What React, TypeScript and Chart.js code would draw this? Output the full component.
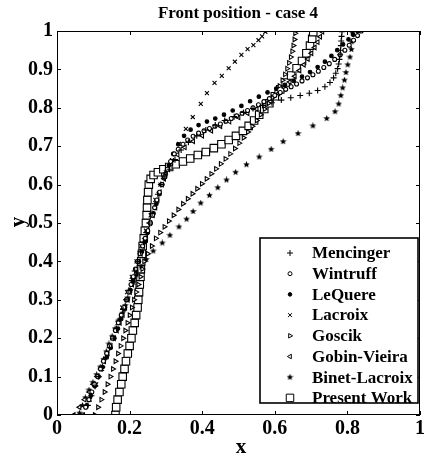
import React, { useEffect, useRef } from "react";
import { Chart, registerables } from "chart.js";
import { drawPoint } from "chart.js/helpers";

Chart.register(...registerables);

const TITLE = "Front position - case 4";
const X_LABEL = "x";
const Y_LABEL = "y";
const X_TICKS = [0, 0.2, 0.4, 0.6, 0.8, 1];
const Y_TICKS = [0, 0.1, 0.2, 0.3, 0.4, 0.5, 0.6, 0.7, 0.8, 0.9, 1];

// Mencinger
const MEN_X = [
  0.075, 0.085, 0.095, 0.105, 0.115, 0.125, 0.135, 0.145, 0.155, 0.164, 0.173, 0.182, 0.19, 0.198, 0.206,
  0.214, 0.222, 0.23, 0.238, 0.246, 0.254, 0.262, 0.27, 0.278, 0.286, 0.295,
  0.31, 0.325, 0.342, 0.362, 0.385, 0.41, 0.436, 0.462, 0.488, 0.514, 0.54, 0.566, 0.592, 0.618, 0.644,
  0.67, 0.695, 0.718, 0.738, 0.752, 0.762, 0.768, 0.773, 0.776, 0.778, 0.78, 0.781, 0.782, 0.783, 0.784, 0.785,
];
const MEN_Y = [
  0, 0.025, 0.05, 0.075, 0.1, 0.125, 0.15, 0.175, 0.2, 0.225, 0.25, 0.275, 0.3, 0.325, 0.35,
  0.375, 0.4, 0.425, 0.45, 0.475, 0.5, 0.525, 0.55, 0.575, 0.6, 0.62,
  0.64, 0.665, 0.69, 0.71, 0.727, 0.742, 0.755, 0.767, 0.777, 0.788, 0.798, 0.806, 0.813, 0.82, 0.826,
  0.832, 0.838, 0.845, 0.855, 0.866, 0.878, 0.89, 0.902, 0.914, 0.926, 0.938, 0.95, 0.962, 0.974, 0.986, 0.998,
];

// Wintruff
const WIN_X = [
  0.07, 0.079, 0.088, 0.096, 0.104, 0.112, 0.12, 0.128, 0.137, 0.145, 0.153, 0.161, 0.169, 0.177, 0.184,
  0.191, 0.198, 0.204, 0.21, 0.216, 0.222, 0.229, 0.236, 0.243, 0.25, 0.257, 0.263, 0.269, 0.275, 0.282,
  0.289, 0.296, 0.304, 0.313, 0.323, 0.334, 0.347, 0.36, 0.375, 0.39, 0.405, 0.42, 0.435, 0.45, 0.465,
  0.48, 0.495, 0.51, 0.525, 0.54, 0.555, 0.57, 0.585, 0.6, 0.615, 0.63, 0.645, 0.66, 0.675, 0.69,
  0.705, 0.72, 0.735, 0.75, 0.765, 0.78, 0.793, 0.805, 0.817, 0.828, 0.838,
];
const WIN_Y = [
  0, 0.02, 0.04, 0.06, 0.08, 0.1, 0.12, 0.14, 0.16, 0.18, 0.2, 0.22, 0.24, 0.26, 0.28,
  0.3, 0.32, 0.34, 0.36, 0.38, 0.4, 0.42, 0.44, 0.46, 0.48, 0.5, 0.52, 0.54, 0.56, 0.58,
  0.6, 0.62, 0.64, 0.66, 0.68, 0.692, 0.705, 0.716, 0.726, 0.734, 0.74, 0.746, 0.752, 0.758, 0.765,
  0.772, 0.779, 0.786, 0.793, 0.8, 0.808, 0.816, 0.824, 0.832, 0.84, 0.848, 0.855, 0.862, 0.87, 0.878,
  0.886, 0.895, 0.905, 0.915, 0.926, 0.938, 0.95, 0.963, 0.976, 0.988, 1.0,
];

// LeQuere
const LEQ_X = [
  0.072, 0.082, 0.093, 0.104, 0.115, 0.126, 0.137, 0.148, 0.158, 0.168, 0.177, 0.186, 0.194, 0.202, 0.21,
  0.218, 0.226, 0.234, 0.242, 0.25, 0.258, 0.266, 0.274, 0.282, 0.29, 0.298, 0.308,
  0.32, 0.334, 0.35, 0.368, 0.39, 0.413, 0.436, 0.46, 0.484, 0.508, 0.532, 0.556, 0.58, 0.604, 0.628,
  0.652, 0.675, 0.697, 0.718, 0.738, 0.756, 0.772, 0.788, 0.803, 0.816, 0.828,
];
const LEQ_Y = [
  0, 0.025, 0.05, 0.075, 0.1, 0.125, 0.15, 0.175, 0.2, 0.225, 0.25, 0.275, 0.3, 0.325, 0.35,
  0.375, 0.4, 0.425, 0.45, 0.475, 0.5, 0.525, 0.55, 0.575, 0.6, 0.62, 0.65,
  0.68, 0.705, 0.727, 0.743, 0.755, 0.764, 0.772, 0.782, 0.793, 0.805, 0.817, 0.829, 0.84, 0.85, 0.86,
  0.87, 0.881, 0.893, 0.906, 0.92, 0.935, 0.95, 0.965, 0.978, 0.99, 1.0,
];

// Lacroix
const LAC_X = [
  0.07, 0.09, 0.108, 0.124, 0.139, 0.153, 0.167, 0.18, 0.193, 0.206, 0.219, 0.232, 0.245, 0.258, 0.271,
  0.285, 0.3, 0.317, 0.336, 0.355, 0.374, 0.396, 0.413, 0.434, 0.454, 0.473, 0.49, 0.508, 0.525, 0.541,
  0.555, 0.565, 0.574,
];
const LAC_Y = [
  0, 0.04, 0.08, 0.12, 0.16, 0.2, 0.24, 0.28, 0.32, 0.36, 0.4, 0.44, 0.48, 0.52, 0.56,
  0.6, 0.632, 0.664, 0.706, 0.745, 0.776, 0.81, 0.838, 0.865, 0.883, 0.903, 0.92, 0.938, 0.953, 0.963,
  0.976, 0.986, 0.998,
];

// Goscik
const GOS_X = [
  0.104, 0.113, 0.122, 0.131, 0.139, 0.147, 0.154, 0.161, 0.168, 0.175, 0.182, 0.188, 0.194, 0.2, 0.206,
  0.212, 0.218, 0.224, 0.23, 0.235, 0.24, 0.25, 0.261, 0.272, 0.284, 0.296, 0.308, 0.321, 0.334, 0.347,
  0.36, 0.373, 0.386, 0.399, 0.412, 0.425, 0.438, 0.451, 0.464, 0.477, 0.49, 0.502, 0.514, 0.526, 0.538,
  0.55, 0.561, 0.572, 0.583, 0.594, 0.604, 0.613, 0.621, 0.628, 0.634, 0.639, 0.644, 0.648, 0.651, 0.654,
  0.656,
];
const GOS_Y = [
  0, 0.02, 0.04, 0.06, 0.08, 0.1, 0.12, 0.14, 0.16, 0.18, 0.2, 0.22, 0.24, 0.26, 0.28,
  0.3, 0.32, 0.34, 0.36, 0.38, 0.4, 0.42, 0.44, 0.46, 0.475, 0.49, 0.505, 0.52, 0.535, 0.55,
  0.563, 0.576, 0.589, 0.602, 0.615, 0.628, 0.641, 0.654, 0.667, 0.68, 0.694, 0.708, 0.722, 0.737, 0.752,
  0.767, 0.782, 0.797, 0.812, 0.827, 0.842, 0.857, 0.872, 0.887, 0.902, 0.917, 0.932, 0.947, 0.962, 0.978,
  0.994,
];

// Gobin-Vieira
const GOB_X = [
  0.046, 0.062, 0.076, 0.089, 0.1, 0.111, 0.121, 0.13, 0.139, 0.148, 0.157, 0.165, 0.173, 0.181, 0.188,
  0.195, 0.201, 0.207, 0.213, 0.219, 0.225, 0.231, 0.237, 0.243, 0.25, 0.257, 0.264, 0.271, 0.277, 0.283,
  0.289, 0.295,
  0.3, 0.315, 0.332, 0.352, 0.375, 0.4, 0.425, 0.45, 0.475, 0.5, 0.525, 0.55, 0.572, 0.592, 0.61,
  0.626, 0.641, 0.655, 0.668, 0.68, 0.691, 0.701, 0.71, 0.718, 0.725, 0.731,
];
const GOB_Y = [
  0, 0.02, 0.04, 0.06, 0.08, 0.1, 0.12, 0.14, 0.16, 0.18, 0.2, 0.22, 0.24, 0.26, 0.28,
  0.3, 0.32, 0.34, 0.36, 0.38, 0.4, 0.42, 0.44, 0.46, 0.48, 0.5, 0.52, 0.54, 0.56, 0.58,
  0.6, 0.615,
  0.63, 0.655, 0.678, 0.697, 0.713, 0.727, 0.74, 0.752, 0.764, 0.775, 0.786, 0.797, 0.81, 0.823, 0.837,
  0.852, 0.867, 0.882, 0.897, 0.912, 0.927, 0.942, 0.957, 0.971, 0.985, 0.998,
];

// Binet-Lacroix
const BIN_X = [
  0.062, 0.07, 0.078, 0.088, 0.099, 0.109, 0.119, 0.128, 0.136, 0.143, 0.152, 0.16, 0.169, 0.18, 0.188,
  0.195, 0.202, 0.21, 0.22, 0.232, 0.246, 0.265, 0.29, 0.311, 0.336, 0.357, 0.375, 0.396, 0.42, 0.443,
  0.467, 0.492, 0.522, 0.557, 0.59, 0.623, 0.664, 0.705, 0.743, 0.766, 0.776, 0.782, 0.787, 0.792, 0.796,
  0.801, 0.807, 0.811, 0.812, 0.814,
];
const BIN_Y = [
  0.005, 0.025, 0.045, 0.065, 0.085, 0.105, 0.125, 0.145, 0.165, 0.185, 0.205, 0.225, 0.245, 0.265, 0.285,
  0.305, 0.325, 0.345, 0.365, 0.385, 0.405, 0.427, 0.448, 0.468, 0.49, 0.51, 0.53, 0.552, 0.572, 0.592,
  0.612, 0.632, 0.652, 0.672, 0.692, 0.712, 0.733, 0.753, 0.772, 0.79, 0.81, 0.832, 0.852, 0.872, 0.892,
  0.912, 0.932, 0.952, 0.972, 0.995,
];

// Present Work
const PW_X = [
  0.161, 0.163, 0.167, 0.172, 0.177, 0.181, 0.186, 0.19, 0.195, 0.2, 0.205, 0.209, 0.214, 0.218, 0.222,
  0.224, 0.226, 0.228, 0.23, 0.231, 0.232, 0.234, 0.236, 0.239, 0.242, 0.245, 0.247, 0.248, 0.249, 0.251,
  0.253, 0.258, 0.266, 0.278, 0.293, 0.309, 0.327, 0.347, 0.367, 0.388, 0.41, 0.432, 0.453, 0.473, 0.493,
  0.512, 0.528, 0.543, 0.557, 0.571, 0.585, 0.6, 0.615, 0.63, 0.645, 0.66, 0.675, 0.687, 0.697, 0.703,
  0.706,
];
const PW_Y = [
  0, 0.02, 0.04, 0.06, 0.08, 0.1, 0.12, 0.14, 0.16, 0.18, 0.2, 0.22, 0.24, 0.26, 0.28,
  0.3, 0.32, 0.34, 0.36, 0.38, 0.4, 0.42, 0.44, 0.46, 0.48, 0.5, 0.52, 0.54, 0.56, 0.58,
  0.6, 0.615, 0.625, 0.632, 0.64, 0.646, 0.653, 0.66, 0.668, 0.677, 0.685, 0.695, 0.705, 0.716, 0.727,
  0.74, 0.753, 0.767, 0.782, 0.797, 0.812, 0.83, 0.848, 0.866, 0.884, 0.903, 0.922, 0.942, 0.962, 0.98,
  0.997,
];

const FONT = "'Liberation Serif', 'Times New Roman', serif";

function makeStar(size: number): HTMLCanvasElement {
  const c = document.createElement("canvas");
  c.width = size;
  c.height = size;
  const g = c.getContext("2d")!;
  const cx = size / 2;
  const cy = size / 2;
  const R = size / 2;
  const r = R * 0.45;
  g.beginPath();
  for (let i = 0; i < 10; i++) {
    const a = -Math.PI / 2 + (i * Math.PI) / 5;
    const rad = i % 2 === 0 ? R : r;
    g.lineTo(cx + rad * Math.cos(a), cy + rad * Math.sin(a));
  }
  g.closePath();
  g.fillStyle = "#000";
  g.fill();
  return c;
}

function pts(xs: number[], ys: number[]) {
  const n = Math.min(xs.length, ys.length);
  const out: { x: number; y: number }[] = [];
  for (let i = 0; i < n; i++) out.push({ x: xs[i], y: ys[i] });
  return out;
}

export default function App() {
  const ref = useRef<HTMLCanvasElement>(null);

  useEffect(() => {
    const canvas = ref.current;
    if (!canvas) return;
    const star = makeStar(7);

    const series = [
      { label: "Mencinger", data: pts(MEN_X, MEN_Y), pointStyle: "cross", radius: 3, rotation: 0, fill: "#000" },
      { label: "Wintruff", data: pts(WIN_X, WIN_Y), pointStyle: "circle", radius: 2, rotation: 0, fill: "#fff" },
      { label: "LeQuere", data: pts(LEQ_X, LEQ_Y), pointStyle: "circle", radius: 1.8, rotation: 0, fill: "#000" },
      { label: "Lacroix", data: pts(LAC_X, LAC_Y), pointStyle: "crossRot", radius: 2.8, rotation: 0, fill: "#000" },
      { label: "Goscik", data: pts(GOS_X, GOS_Y), pointStyle: "triangle", radius: 2.6, rotation: 90, fill: "#fff" },
      { label: "Gobin-Vieira", data: pts(GOB_X, GOB_Y), pointStyle: "triangle", radius: 2.6, rotation: -90, fill: "#fff" },
      { label: "Binet-Lacroix", data: pts(BIN_X, BIN_Y), pointStyle: star as any, radius: 3.5, rotation: 0, fill: "#000" },
      { label: "Present Work", data: pts(PW_X, PW_Y), pointStyle: "rect", radius: 5.3, rotation: 0, fill: "#fff" },
    ];

    const framePlugin = {
      id: "frame",
      afterDraw(chart: any) {
        const { ctx, chartArea: a, scales } = chart;
        const xs = scales.x;
        const ys = scales.y;
        ctx.save();
        ctx.strokeStyle = "#000";
        ctx.lineWidth = 1;
        ctx.strokeRect(a.left + 0.5, a.top + 0.5, a.right - a.left - 1, a.bottom - a.top - 1);
        const tl = 4;
        ctx.beginPath();
        for (const v of X_TICKS) {
          const px = Math.round(xs.getPixelForValue(v)) + 0.5;
          ctx.moveTo(px, a.bottom);
          ctx.lineTo(px, a.bottom - tl);
          ctx.moveTo(px, a.top);
          ctx.lineTo(px, a.top + tl);
        }
        for (const v of Y_TICKS) {
          const py = Math.round(ys.getPixelForValue(v)) + 0.5;
          ctx.moveTo(a.left, py);
          ctx.lineTo(a.left + tl, py);
          ctx.moveTo(a.right, py);
          ctx.lineTo(a.right - tl, py);
        }
        ctx.stroke();

        // title and axis names
        ctx.fillStyle = "#000";
        ctx.textAlign = "center";
        ctx.textBaseline = "alphabetic";
        ctx.font = `bold 17px ${FONT}`;
        ctx.fillText(TITLE, 238, 18);
        ctx.font = `bold 21px ${FONT}`;
        ctx.textBaseline = "middle";
        ctx.fillText(X_LABEL, 241, 448);
        ctx.save();
        ctx.translate(19, 222);
        ctx.rotate(-Math.PI / 2);
        ctx.fillText(Y_LABEL, 0, 0);
        ctx.restore();

        // legend
        const lx = 260;
        const ly = 238;
        const lw = 158;
        const lh = 165;
        ctx.fillStyle = "#fff";
        ctx.fillRect(lx, ly, lw, lh);
        ctx.lineWidth = 1.6;
        ctx.strokeRect(lx, ly, lw, lh);
        ctx.font = `bold 17px ${FONT}`;
        ctx.textAlign = "left";
        ctx.textBaseline = "middle";
        series.forEach((s, i) => {
          const cy = ly + 15 + i * 20.7;
          ctx.strokeStyle = "#000";
          ctx.fillStyle = s.fill;
          ctx.lineWidth = 1;
          drawPoint(ctx, { pointStyle: s.pointStyle, rotation: s.rotation, radius: s.radius, borderWidth: 1 } as any, 290, cy);
          ctx.fillStyle = "#000";
          ctx.fillText(s.label, 312, cy + 1);
        });
        ctx.restore();
      },
    };

    const tickFont = { family: FONT, size: 20, weight: "bold" as const };

    const chart = new Chart(canvas, {
      type: "scatter",
      data: {
        datasets: series.map((s) => ({
          label: s.label,
          data: s.data,
          showLine: false,
          pointStyle: s.pointStyle as any,
          pointRadius: s.radius,
          pointRotation: s.rotation,
          pointBorderColor: "#000",
          pointBackgroundColor: s.fill,
          pointBorderWidth: 1.1,
          pointHoverRadius: s.radius,
        })),
      },
      options: {
        responsive: false,
        animation: false,
        devicePixelRatio: 1,
        layout: { padding: { left: 0, top: 31, right: 4, bottom: 0 } },
        plugins: {
          legend: { display: false },
          title: { display: false },
          tooltip: { enabled: false },
        },
        scales: {
          x: {
            type: "linear",
            min: 0,
            max: 1,
            afterBuildTicks: (s: any) => {
              s.ticks = X_TICKS.map((v) => ({ value: v }));
            },
            afterFit: (s: any) => {
              s.height = 43;
            },
            grid: { display: false, drawTicks: false },
            border: { display: false },
            ticks: {
              font: tickFont,
              color: "#000",
              padding: 2,
              maxRotation: 0,
              autoSkip: false,
              callback: (v: any) => String(v),
            },
          },
          y: {
            type: "linear",
            min: 0,
            max: 1,
            afterBuildTicks: (s: any) => {
              s.ticks = Y_TICKS.map((v) => ({ value: v }));
            },
            afterFit: (s: any) => {
              s.width = 57;
            },
            grid: { display: false, drawTicks: false },
            border: { display: false },
            ticks: {
              font: tickFont,
              color: "#000",
              padding: 4,
              autoSkip: false,
              callback: (v: any) => String(v),
            },
          },
        },
      },
      plugins: [framePlugin],
    });

    return () => chart.destroy();
  }, []);

  return (
    <div style={{ position: "fixed", left: 0, top: 0, width: 427, height: 458, background: "#fff" }}>
      <canvas ref={ref} width={427} height={458} style={{ display: "block", width: 427, height: 458 }} />
    </div>
  );
}
